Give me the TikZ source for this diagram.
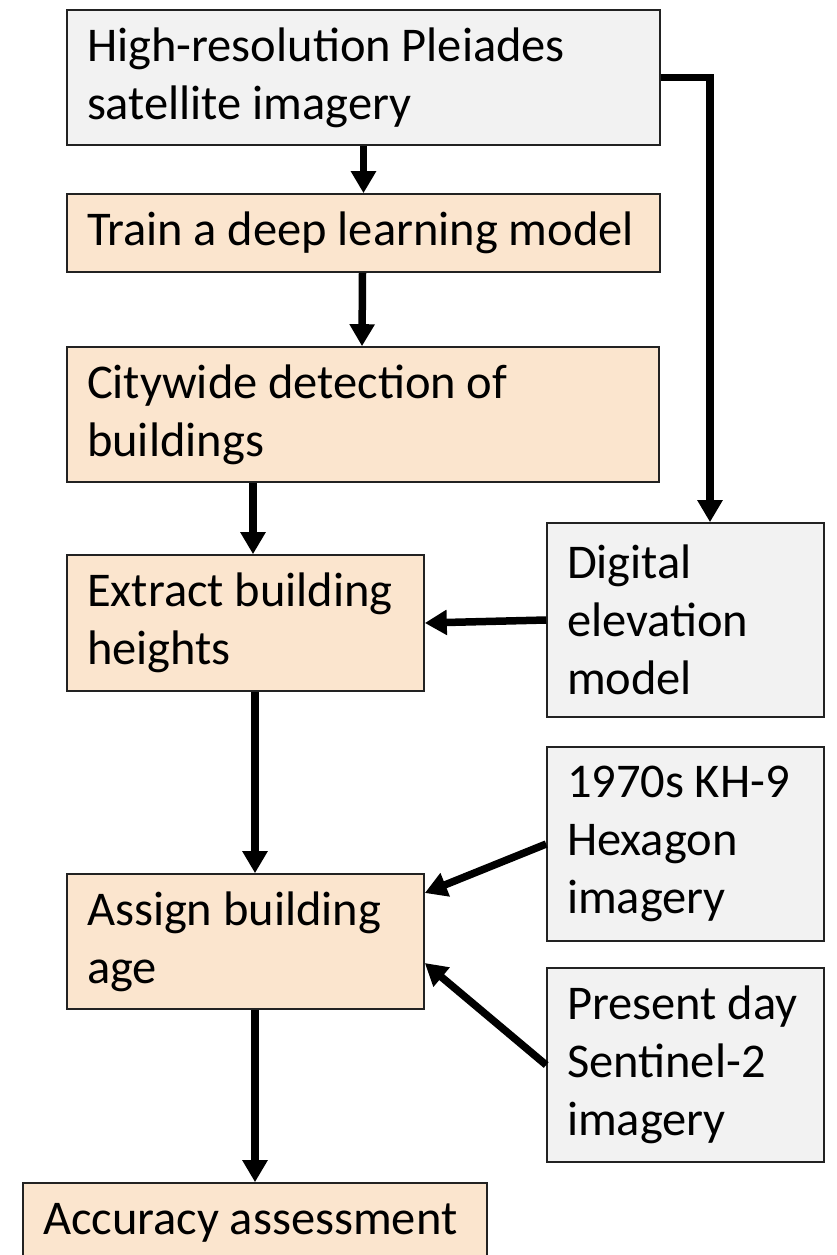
\documentclass[tikz,border=0pt]{standalone}
\usepackage{fontspec}
\setmainfont{Carlito}
\usetikzlibrary{arrows.meta}
\definecolor{grayfill}{HTML}{F2F2F2}
\definecolor{orangefill}{HTML}{FBE5CE}
\definecolor{edge}{HTML}{222222}
\newcommand\tightspace{\spaceskip=0.22em plus 0.05em\relax}
\begin{document}
\begin{tikzpicture}[x=1pt,y=-1pt,
  box/.style={draw=edge, line width=1.6pt, rectangle, align=left, inner xsep=20pt, inner ysep=0pt,
    font=\fontsize{48.5}{58}\selectfont, execute at begin node=\tightspace},
  graybox/.style={box, fill=grayfill},
  orangebox/.style={box, fill=orangefill},
  arr/.style={line width=7.5pt, draw=black, -{Triangle[width=24pt,length=22pt]}}
]
\clip (0,0) rectangle (836,1255);
\fill[white] (0,0) rectangle (836,1255);

\node[graybox, minimum width=593pt, minimum height=135pt, text width=553pt] (src) at (363.5,77.5)
  {High-resolution Pleiades\\satellite imagery};
\node[orangebox, minimum width=593pt, minimum height=78pt, text width=553pt] (train) at (363.5,233)
  {\mbox{Train a deep learning model}};
\node[orangebox, minimum width=592pt, minimum height=135pt, text width=552pt] (city) at (363,414.5)
  {Citywide detection of\\buildings};
\node[orangebox, minimum width=357pt, minimum height=136pt, text width=317pt] (extract) at (245.5,623)
  {\mbox{Extract building}\\heights};
\node[graybox, minimum width=277pt, minimum height=194pt, text width=237pt] (dem) at (685.5,620)
  {Digital\\elevation\\model};
\node[graybox, minimum width=277pt, minimum height=194pt, text width=237pt] (hex) at (685.5,844)
  {\mbox{1970s KH-9}\\Hexagon\\imagery};
\node[orangebox, minimum width=357pt, minimum height=135pt, text width=317pt] (age) at (245.5,941.5)
  {Assign building\\age};
\node[graybox, minimum width=277pt, minimum height=194pt, text width=237pt] (sent) at (685.5,1065)
  {\mbox{Present day}\\Sentinel-2\\imagery};
\node[orangebox, minimum width=464pt, minimum height=80pt, text width=424pt] (acc) at (255,1223)
  {\mbox{Accuracy assessment}};

\draw[arr] (src.south) -- (train.north);
\draw[arr] ([xshift=-1pt]train.south) -- ([xshift=-1pt]city.north);
\draw[arr] ([xshift=-110pt]city.south) -- ([xshift=7.5pt]extract.north);
\draw[arr] ([xshift=9.5pt]extract.south) -- ([xshift=9.5pt]age.north);
\draw[arr] ([xshift=9.5pt]age.south) -- (acc.north);
\draw[arr] (src.east) -| ([xshift=24.5pt]dem.north);
\draw[arr] (dem.west) -- (extract.east);
\draw[arr] (hex.west) -- ([yshift=48.5pt]age.east);
\draw[arr] (sent.west) -- ([yshift=-21.5pt]age.east);
\end{tikzpicture}
\end{document}
